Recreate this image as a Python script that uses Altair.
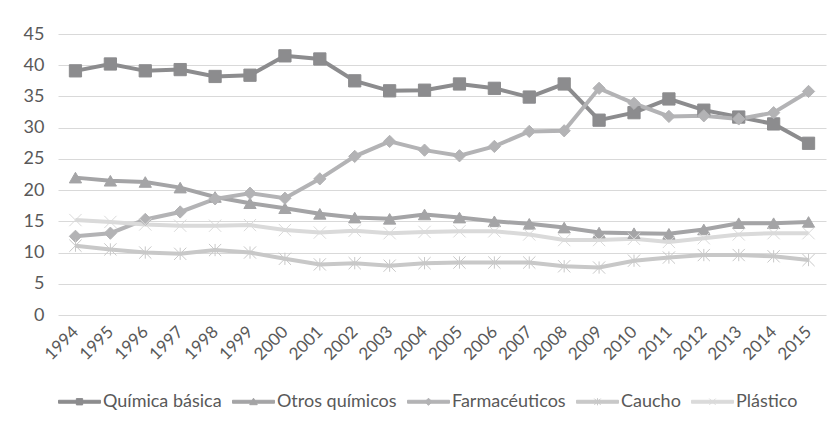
import altair as alt
import pandas as pd

years = [str(y) for y in range(1994, 2016)]
series = ["Química básica", "Otros químicos", "Farmacéuticos", "Caucho", "Plástico"]
quimica_basica = [39.1, 40.2, 39.1, 39.3, 38.2, 38.4, 41.5, 41.0, 37.5, 35.9, 36.0,
                  37.0, 36.3, 34.9, 37.0, 31.2, 32.4, 34.6, 32.8, 31.7, 30.6, 27.5]
otros_quimicos = [22.0, 21.5, 21.3, 20.4, 18.9, 17.9, 17.1, 16.2, 15.6, 15.4, 16.1,
                  15.6, 15.0, 14.6, 14.0, 13.2, 13.1, 13.0, 13.7, 14.7, 14.7, 14.9]
farmaceuticos = [12.6, 13.1, 15.3, 16.5, 18.6, 19.5, 18.7, 21.8, 25.4, 27.8, 26.4,
                 25.5, 27.0, 29.4, 29.5, 36.3, 33.9, 31.8, 31.9, 31.4, 32.4, 35.8]
caucho = [11.1, 10.5, 10.0, 9.8, 10.4, 10.0, 9.0, 8.1, 8.3, 7.9, 8.3,
          8.4, 8.4, 8.4, 7.8, 7.6, 8.7, 9.2, 9.6, 9.6, 9.4, 8.8]
plastico = [15.2, 14.9, 14.5, 14.3, 14.3, 14.4, 13.6, 13.2, 13.5, 13.1, 13.3,
            13.4, 13.4, 12.9, 12.0, 12.0, 12.2, 11.7, 12.3, 12.9, 13.1, 13.1]
y_ticks = [0, 5, 10, 15, 20, 25, 30, 35, 40, 45]

colors = ["#8c8c8e", "#a4a4a6", "#b3b3b5", "#c8c8c8", "#dadada"]
plot_shapes = ["square", "triangle-up", "diamond",
               "M-1,-1L1,1M-1,1L1,-1M0,-1L0,1",
               "M-1,-1L1,1M-1,1L1,-1"]

line_h = "M-1,-0.07H1V0.07H-1Z"
legend_shapes = [
    line_h + "M-0.15,-0.15H0.15V0.15H-0.15Z",
    line_h + "M0,-0.17L0.18,0.14H-0.18Z",
    line_h + "M0,-0.17L0.17,0L0,0.17L-0.17,0Z",
    line_h + "M-0.15,-0.15L0.15,0.15M-0.15,0.15L0.15,-0.15M0,-0.17L0,0.17",
    line_h + "M-0.15,-0.15L0.15,0.15M-0.15,0.15L0.15,-0.15",
]

rows = []
for name, vals in zip(series, [quimica_basica, otros_quimicos, farmaceuticos, caucho, plastico]):
    for yr, v in zip(years, vals):
        rows.append({"Año": yr, "Serie": name, "Valor": v})
df = pd.DataFrame(rows)

FONT = "Lato"
TXT = "#595959"

x = alt.X("Año:O", sort=years, scale=alt.Scale(type="point", padding=0.5),
          axis=alt.Axis(title=None, labelAngle=-45, labelAlign="right", labelBaseline="middle",
                        labelPadding=14, ticks=False, domain=False, grid=False,
                        labelFont=FONT, labelFontSize=17, labelColor=TXT))
y = alt.Y("Valor:Q", scale=alt.Scale(domain=[0, 45], nice=False),
          axis=alt.Axis(title=None, values=y_ticks, ticks=False, domain=False,
                        labelPadding=14, labelFont=FONT, labelFontSize=18, labelColor=TXT,
                        gridColor="#d9d9d9", gridWidth=1.2))
color_scale = alt.Scale(domain=series, range=colors)

lines = alt.Chart(df).mark_line(strokeWidth=4).encode(
    x=x, y=y,
    color=alt.Color("Serie:N", scale=color_scale, legend=None),
    detail="Serie:N",
)

points = alt.Chart(df).mark_point(filled=True, size=150, strokeWidth=1, opacity=1).encode(
    x=x, y=y,
    color=alt.Color("Serie:N", scale=color_scale, legend=None),
    shape=alt.Shape("Serie:N", scale=alt.Scale(domain=series, range=plot_shapes), legend=None),
    stroke=alt.Stroke("Serie:N", scale=color_scale, legend=None),
)

legend = alt.Legend(
    title=None, orient="none", legendX=0, legendY=346, direction="horizontal",
    labelFont=FONT, labelFontSize=18, labelColor=TXT, labelOffset=2,
    columnPadding=8, symbolSize=1764, padding=0, symbolOpacity=1, symbolStrokeWidth=1,
)

legend_layer = alt.Chart(df).transform_filter("false").mark_point(
    filled=True, opacity=1, strokeWidth=1
).encode(
    x=x, y=y,
    color=alt.Color("Serie:N", scale=color_scale, legend=legend),
    shape=alt.Shape("Serie:N", scale=alt.Scale(domain=series, range=legend_shapes), legend=legend),
    stroke=alt.Stroke("Serie:N", scale=color_scale, legend=legend),
)

chart = alt.layer(lines, points, legend_layer).resolve_scale(
    color="independent", shape="independent", stroke="independent"
).properties(
    width=768, height=281,
    autosize=alt.AutoSizeParams(type="none"),
    padding={"left": 50, "top": 26, "right": 2, "bottom": 108},
    background="white",
).configure_view(stroke=None)

chart.save("out.html", embed_options={"renderer": "svg", "actions": False})
